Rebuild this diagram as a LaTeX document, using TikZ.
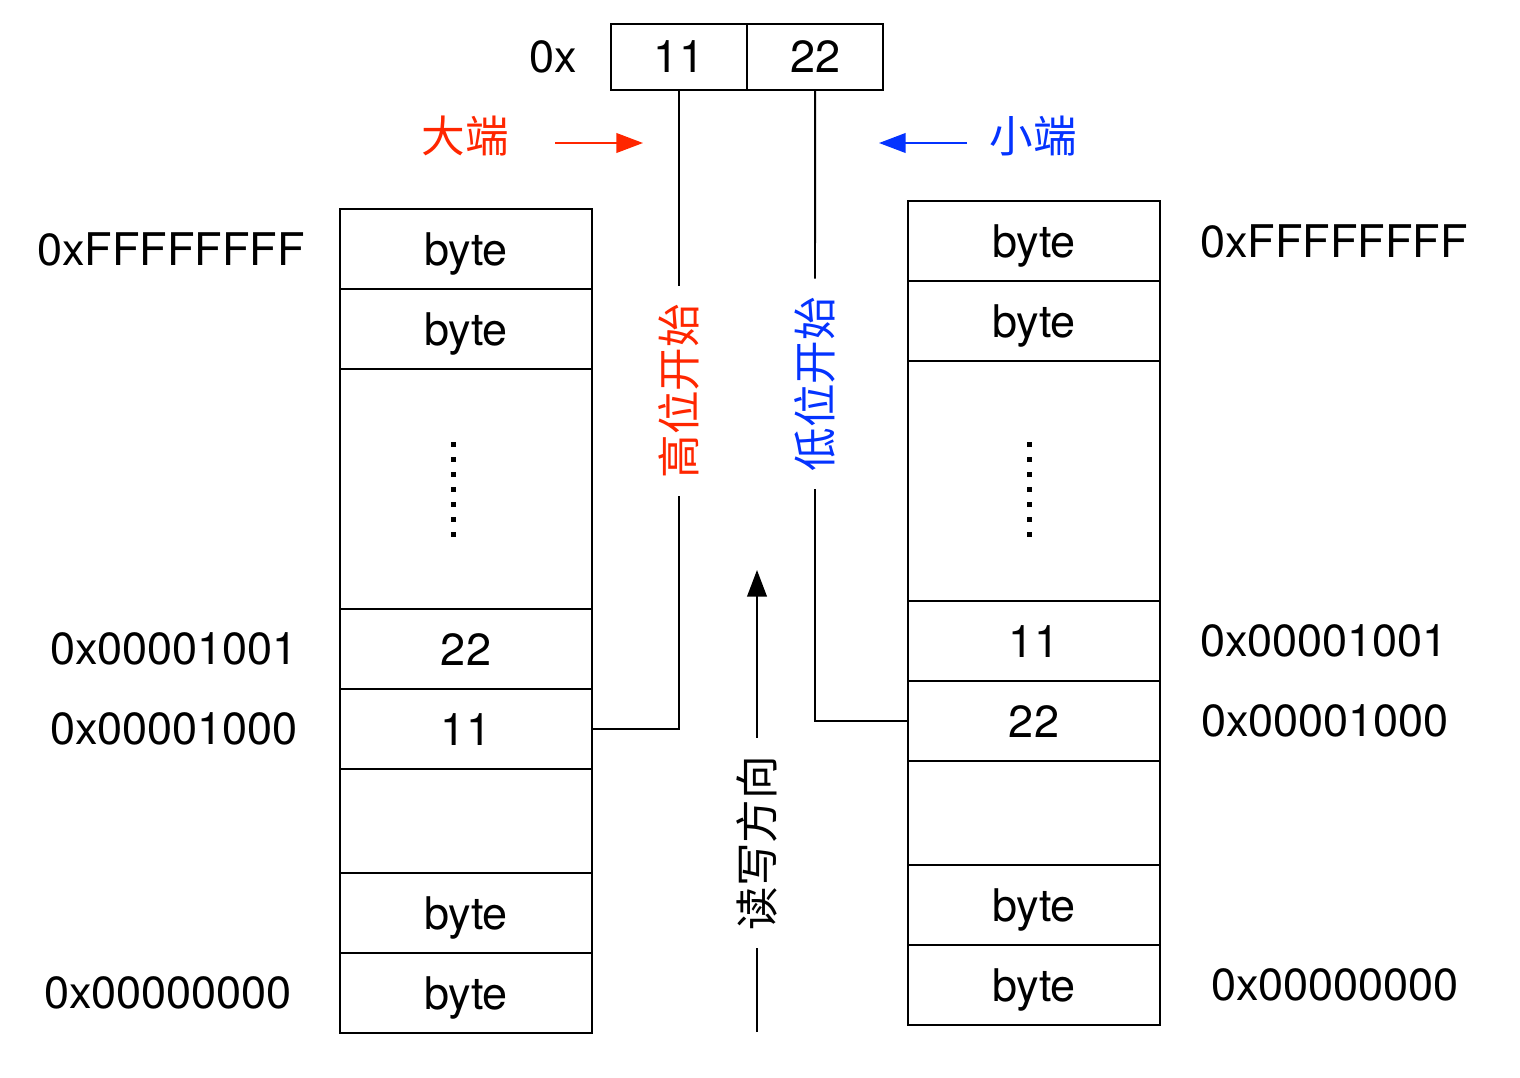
\documentclass[tikz,border=0pt]{standalone}
\usepackage{fontspec}
\setmainfont{TeX Gyre Heros}
\newfontfamily\cjk{Noto Sans CJK SC}
\usetikzlibrary{positioning}
\usetikzlibrary{arrows.meta}

\definecolor{bigred}{RGB}{255,38,0}
\definecolor{smallblue}{RGB}{4,51,255}
\newcommand\cellsize{\fontsize{32}{38}\selectfont}
\newcommand\cjksize{\fontsize{31}{37}\selectfont}

\tikzset{
  cell/.style={draw, line width=1.4pt, minimum width=6.3cm, minimum height=2cm,
    inner sep=0pt, outer sep=0pt, text depth=0pt},
  tallcell/.style={cell, minimum height=6cm},
  gapcell/.style={cell, minimum height=2.6cm},
  topcell/.style={cell, minimum width=3.4cm, minimum height=1.65cm},
  addr/.style={inner sep=0pt, text depth=0pt},
  endian/.style={inner sep=0pt, font=\cjk\cjksize},
  vlabel/.style={rotate=90, inner xsep=12.8pt, inner ysep=0pt, font=\cjk\cjksize},
  link/.style={line width=1.4pt},
  dirarrow/.style={-{Triangle[length=19pt,width=14pt]}, line width=1.4pt}
}

\begin{document}
\begin{tikzpicture}[x=0.025cm, y=-0.025cm, font=\cellsize]
  \useasboundingbox (0,0) rectangle (1520,1078);

  % Value 0x1122
  \node (prefix) at (553,57) {0x};
  \node[topcell] (hi) at (679,57) {11};
  \node[topcell, right=0pt of hi] (lo) {22};

  % Big endian memory
  \node[cell] (L1) at (466,249) {byte};
  \node[cell, below=0pt of L1] (L2) {byte};
  \node[tallcell, below=0pt of L2] (L3) {};
  \node[cell, below=0pt of L3] (L4) {22};
  \node[cell, below=0pt of L4] (L5) {11};
  \node[gapcell, below=0pt of L5] (L6) {};
  \node[cell, below=0pt of L6] (L7) {byte};
  \node[cell, below=0pt of L7] (L8) {byte};

  % Little endian memory
  \node[cell] (R1) at (1034,241) {byte};
  \node[cell, below=0pt of R1] (R2) {byte};
  \node[tallcell, below=0pt of R2] (R3) {};
  \node[cell, below=0pt of R3] (R4) {11};
  \node[cell, below=0pt of R4] (R5) {22};
  \node[gapcell, below=0pt of R5] (R6) {};
  \node[cell, below=0pt of R6] (R7) {byte};
  \node[cell, below=0pt of R7] (R8) {byte};

  % Dots
  \foreach \col/\dx/\dy in {L3/-13/0, R3/-5/8.5}
    \foreach \k in {-3,...,3}
      \fill ([shift={(\dx-2.5,\dy+15*\k-2.5)}]\col.center) rectangle +(5,5);

  % Addresses
  \node[addr] (aL1) at (171,249) {0xFFFFFFFF};
  \node[addr] (aL4) at (174,649) {0x00001001};
  \node[addr] (aL5) at (174,729) {0x00001000};
  \node[addr] (aL8) at (168,993) {0x00000000};
  \node[addr] (aR1) at (1334,241) {0xFFFFFFFF};
  \node[addr] (aR4) at (1324,641) {0x00001001};
  \node[addr] (aR5) at (1325,721) {0x00001000};
  \node[addr] (aR8) at (1335,985) {0x00000000};

  % Endian labels
  \node[endian, bigred] (big) at (465,136) {大端};
  \coordinate (bigtail) at (555,143);
  \coordinate (bigtip) at (643,143);
  \draw[dirarrow, bigred] (bigtail) -- (bigtip);
  \node[endian, smallblue] (small) at (1033,136) {小端};
  \coordinate (smalltail) at (967,143);
  \coordinate (smalltip) at (879,143);
  \draw[dirarrow, smallblue] (smalltail) -- (smalltip);

  % Byte order links
  \node[vlabel, bigred] (hitext) at (679,391) {高位开始};
  \draw[link] (hi.south) -- (hitext.east);
  \draw[link] (hitext.west) |- (L5.east);
  \node[vlabel, smallblue] (lotext) at (815,384) {低位开始};
  \draw[link] (lo.south) -- (lotext.east);
  \draw[link] (lotext.west) |- (R5.west);

  % Read/write direction
  \node[vlabel] (rwtext) at (757,843) {读写方向};
  \coordinate (rwfoot) at (757,1032);
  \coordinate (rwtip) at (757,570);
  \draw[link] (rwfoot) -- (rwtext.west);
  \draw[dirarrow] (rwtext.east) -- (rwtip);
\end{tikzpicture}
\end{document}
